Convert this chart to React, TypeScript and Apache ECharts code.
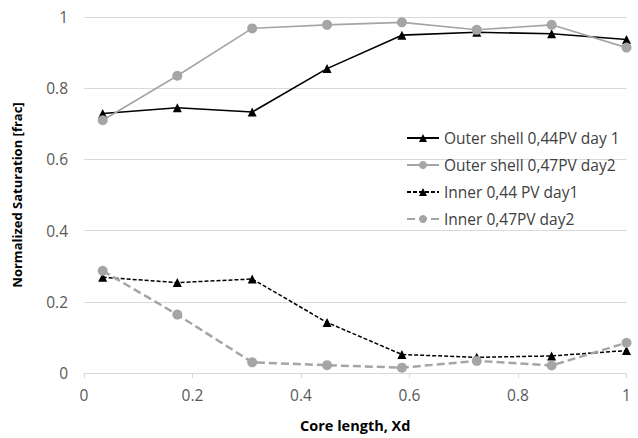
import React, { useEffect, useRef } from "react";
import * as echarts from "echarts";

const xPositions = [0.0345, 0.172, 0.31, 0.448, 0.586, 0.724, 0.862, 1.0];
const outerDay1 = [0.729, 0.745, 0.733, 0.855, 0.949, 0.957, 0.953, 0.937];
const outerDay2 = [0.71, 0.835, 0.968, 0.978, 0.985, 0.964, 0.978, 0.914];
const innerDay1 = [0.269, 0.254, 0.264, 0.142, 0.052, 0.044, 0.048, 0.063];
const innerDay2 = [0.287, 0.164, 0.03, 0.022, 0.015, 0.034, 0.021, 0.085];
const seriesNames = [
  "Outer shell 0,44PV day 1",
  "Outer shell 0,47PV day2",
  "Inner 0,44 PV day1",
  "Inner 0,47PV day2",
];

const pairs = (ys: number[]) => xPositions.map((x, i) => [x, ys[i]]);

export default function App() {
  const ref = useRef<HTMLDivElement>(null);
  useEffect(() => {
    if (!ref.current) return;
    const chart = echarts.init(ref.current, undefined, { renderer: "svg" });
    const font = "'Open Sans', 'Noto Sans', sans-serif";
    const black = "#000000";
    const gray = "#a5a5a5";
    chart.setOption({
      animation: false,
      backgroundColor: "#ffffff",
      textStyle: { fontFamily: font },
      grid: { left: 84, right: 11.5, top: 17, bottom: 64.5 },
      xAxis: {
        type: "value",
        min: 0,
        max: 1,
        interval: 0.2,
        name: "Core length, Xd",
        nameLocation: "middle",
        nameGap: 45,
        nameTextStyle: { fontFamily: font, fontWeight: "bold", fontSize: 14.5, color: "#000" },
        axisLine: { show: true, lineStyle: { color: "#d9d9d9", width: 1 } },
        axisTick: { show: true, length: 5, lineStyle: { color: "#d9d9d9" } },
        axisLabel: { color: "#595959", fontSize: 15.5, margin: 14, fontFamily: font },
        splitLine: { show: false },
      },
      yAxis: {
        type: "value",
        min: 0,
        max: 1,
        interval: 0.2,
        name: "Normalized Saturation [frac]",
        nameLocation: "middle",
        nameGap: 61,
        nameTextStyle: { fontFamily: font, fontWeight: "bold", fontSize: 13, color: "#000" },
        axisLine: { show: false },
        axisTick: { show: false },
        axisLabel: { color: "#595959", fontSize: 15.5, margin: 16, fontFamily: font },
        splitLine: { show: true, lineStyle: { color: "#d9d9d9", width: 1 } },
      },
      legend: {
        orient: "vertical",
        left: 401,
        top: 125,
        itemWidth: 32,
        itemHeight: 10,
        itemGap: 11,
        textStyle: { fontFamily: font, fontSize: 15.5, color: "#404040" },
        data: seriesNames,
      },
      series: [
        {
          name: seriesNames[0],
          type: "line",
          data: pairs(outerDay1),
          symbol: "triangle",
          symbolSize: 9,
          itemStyle: { color: black },
          lineStyle: { color: black, width: 1.6 },
        },
        {
          name: seriesNames[1],
          type: "line",
          data: pairs(outerDay2),
          symbol: "circle",
          symbolSize: 10,
          itemStyle: { color: gray },
          lineStyle: { color: gray, width: 1.6 },
        },
        {
          name: seriesNames[2],
          type: "line",
          data: pairs(innerDay1),
          symbol: "triangle",
          symbolSize: 9,
          itemStyle: { color: black },
          lineStyle: { color: black, width: 1.5, type: [4, 2] },
        },
        {
          name: seriesNames[3],
          type: "line",
          data: pairs(innerDay2),
          symbol: "circle",
          symbolSize: 10,
          itemStyle: { color: gray },
          lineStyle: { color: gray, width: 2.5, type: [8, 4] },
        },
      ],
    });
    return () => chart.dispose();
  }, []);
  return <div ref={ref} style={{ width: 638, height: 438, position: "absolute", left: 0, top: 0 }} />;
}
